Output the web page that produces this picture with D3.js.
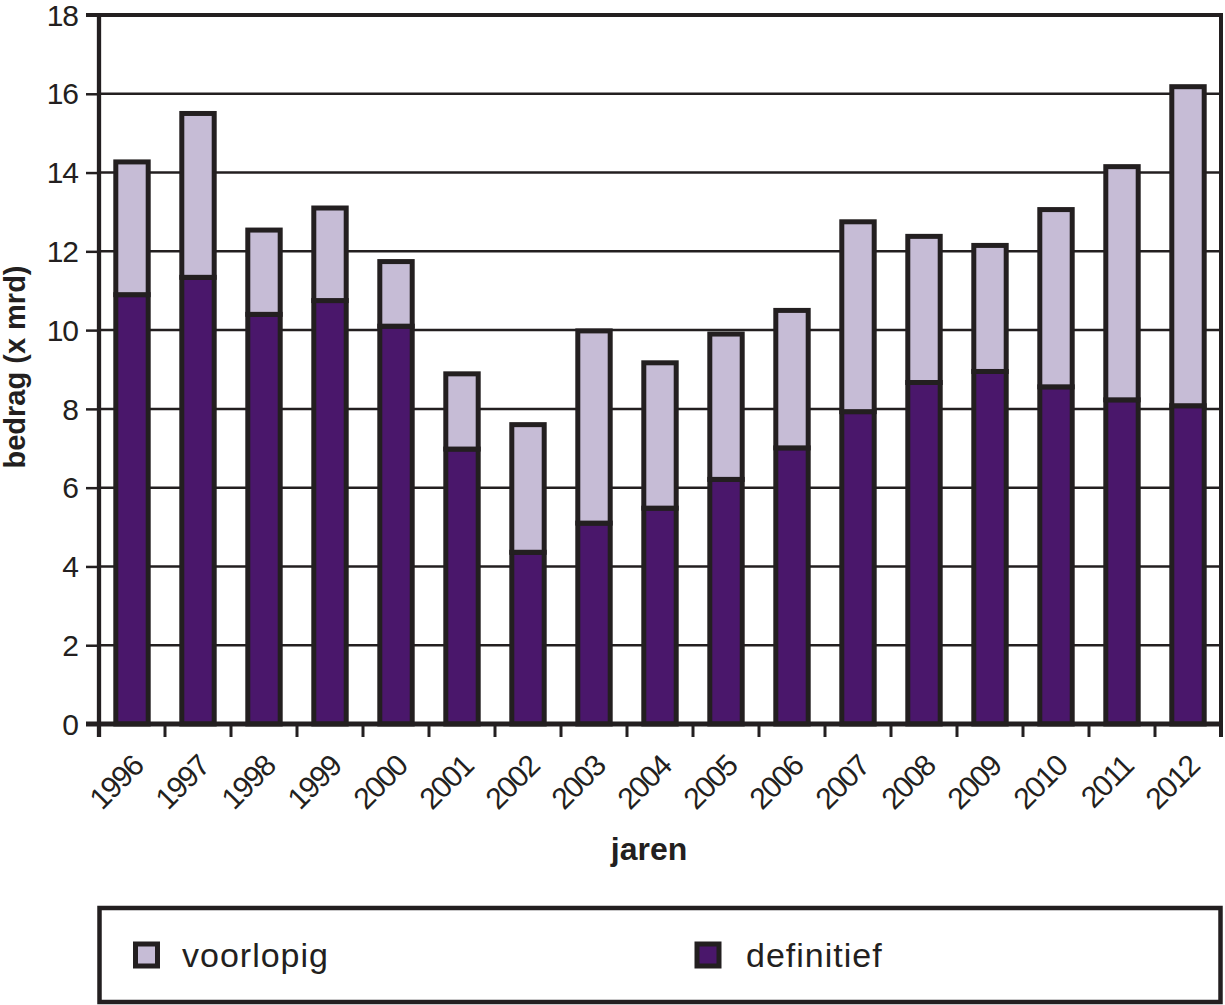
<!DOCTYPE html>
<html>
<head>
<meta charset="utf-8">
<script src="https://cdn.jsdelivr.net/npm/d3@7"></script>
<style>
  html, body { margin: 0; padding: 0; background: #fff; }
  svg { display: block; }
  text { font-family: "Liberation Sans", Arial, sans-serif; fill: #231f20; }
</style>
</head>
<body>
<svg id="chart" width="1225" height="1005"></svg>
<script>
const years = ["1996","1997","1998","1999","2000","2001","2002","2003","2004","2005","2006","2007","2008","2009","2010","2011","2012"];
const definitief = [10.9, 11.34, 10.4, 10.75, 10.1, 6.98, 4.36, 5.1, 5.48, 6.21, 7.01, 7.93, 8.67, 8.95, 8.56, 8.23, 8.08];
const voorlopig  = [3.37, 4.16, 2.14, 2.35, 1.64, 1.91, 3.24, 4.88, 3.69, 3.69, 3.49, 4.82, 3.71, 3.2, 4.5, 5.92, 8.1];
const yTicks = [0, 2, 4, 6, 8, 10, 12, 14, 16, 18];
const seriesNames = ["definitief", "voorlopig"];
const legendLabels = ["voorlopig", "definitief"];
const colors = { definitief: "#4a176b", voorlopig: "#c6bcd6" };
const ink = "#231f20";

const svg = d3.select("#chart");
const pLeft = 99, pRight = 1221, pTop = 15, pBottom = 724;

const x = d3.scaleBand().domain(years).range([pLeft, pRight]).paddingInner(0.509).paddingOuter(0.2545);
const y = d3.scaleLinear().domain([0, 18]).range([pBottom, pTop]);

// gridlines
svg.append("g").selectAll("line").data(yTicks.filter(v => v > 0 && v < 18)).join("line")
  .attr("x1", pLeft).attr("x2", pRight)
  .attr("y1", d => y(d)).attr("y2", d => y(d))
  .attr("stroke", ink).attr("stroke-width", 2.5);

// stacked bars
const table = years.map((yr, i) => ({ year: yr, definitief: definitief[i], voorlopig: voorlopig[i] }));
const stacked = d3.stack().keys(seriesNames)(table);
svg.append("g").selectAll("g").data(stacked).join("g")
  .attr("fill", s => colors[s.key])
  .selectAll("rect").data(s => s).join("rect")
  .attr("x", d => x(d.data.year))
  .attr("width", x.bandwidth())
  .attr("y", d => y(d[1]))
  .attr("height", d => y(d[0]) - y(d[1]))
  .attr("stroke", ink).attr("stroke-width", 5);

// y axis ticks + labels
const yAxis = d3.axisLeft(y).tickValues(yTicks).tickSize(13).tickPadding(8);
const gy = svg.append("g").attr("transform", `translate(${pLeft},0)`).call(yAxis);
gy.select(".domain").remove();
gy.selectAll(".tick line").attr("stroke", ink).attr("stroke-width", 2.5);
gy.selectAll(".tick text")
  .style("font-size", "30px").style("letter-spacing", "-1px")
  .style("font-family", "'Liberation Sans', Arial, sans-serif")
  .attr("fill", ink).attr("dy", "0.34em");

// frame
svg.append("line").attr("x1", pLeft).attr("x2", pLeft).attr("y1", pTop - 2).attr("y2", pBottom + 13)
  .attr("stroke", ink).attr("stroke-width", 4.3);
svg.append("line").attr("x1", pLeft - 13).attr("x2", pRight + 2).attr("y1", pTop).attr("y2", pTop)
  .attr("stroke", ink).attr("stroke-width", 4);
svg.append("line").attr("x1", pRight).attr("x2", pRight).attr("y1", pTop - 2).attr("y2", pBottom + 13)
  .attr("stroke", ink).attr("stroke-width", 4);
svg.append("line").attr("x1", pLeft - 13).attr("x2", pRight + 2).attr("y1", pBottom).attr("y2", pBottom)
  .attr("stroke", ink).attr("stroke-width", 5);

// x ticks at band boundaries
const gap = (x.step() - x.bandwidth()) / 2;
const bounds = years.map(d => x(d) - gap).concat([x(years[years.length - 1]) + x.bandwidth() + gap]);
svg.append("g").selectAll("line").data(bounds).join("line")
  .attr("x1", d => d).attr("x2", d => d)
  .attr("y1", pBottom).attr("y2", pBottom + 13)
  .attr("stroke", ink).attr("stroke-width", 3);

// x labels rotated
svg.append("g").selectAll("text").data(years).join("text")
  .attr("transform", d => `translate(${x(d) + x.bandwidth() / 2 + 13},768) rotate(-45)`)
  .attr("text-anchor", "end")
  .style("font-size", "30px").style("letter-spacing", "-1.5px")
  .text(d => d);

// axis titles
svg.append("text")
  .attr("transform", "translate(25,367) rotate(-90)")
  .attr("text-anchor", "middle")
  .style("font-size", "29px").style("font-weight", "bold")
  .text("bedrag (x mrd)");
svg.append("text")
  .attr("x", 649).attr("y", 860)
  .attr("text-anchor", "middle")
  .style("font-size", "32px").style("font-weight", "bold")
  .text("jaren");

// legend
svg.append("rect").attr("x", 99.5).attr("y", 908).attr("width", 1121).attr("height", 94)
  .attr("fill", "none").attr("stroke", ink).attr("stroke-width", 4.5);
const legendPos = [{ sx: 146.5, tx: 182 }, { sx: 708, tx: 746 }];
const lg = svg.append("g").selectAll("g").data(legendLabels).join("g");
lg.append("rect")
  .attr("x", (d, i) => legendPos[i].sx - 11).attr("y", 944)
  .attr("width", 22).attr("height", 22)
  .attr("fill", d => colors[d]).attr("stroke", ink).attr("stroke-width", 5);
lg.append("text")
  .attr("x", (d, i) => legendPos[i].tx).attr("y", 967)
  .style("font-size", "34px").style("letter-spacing", "1px")
  .text(d => d);
</script>
</body>
</html>
